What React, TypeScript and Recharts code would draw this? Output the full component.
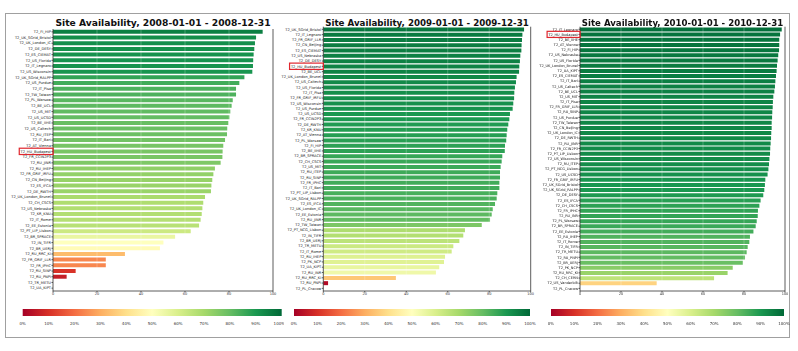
import { BarChart, Bar, Cell, XAxis, YAxis, ReferenceLine } from 'recharts'

const HIGHLIGHT = 'T2_HU_Budapest'

const sites2008 = [
  'T2_FI_HIP', 'T2_UK_SGrid_Bristol', 'T2_UK_London_IC', 'T2_DE_DESY', 'T2_ES_CIEMAT', 'T2_US_Florida',
  'T2_IT_Legnaro', 'T2_US_Wisconsin', 'T2_UK_SGrid_RALPP', 'T2_US_Purdue', 'T2_IT_Pisa', 'T2_TW_Taiwan',
  'T2_PL_Warsaw', 'T2_BE_UCL', 'T2_US_MIT', 'T2_US_UCSD', 'T2_BE_IIHE', 'T2_US_Caltech', 'T2_RU_ITEP',
  'T2_IT_Bari', 'T2_AT_Vienna', 'T2_HU_Budapest', 'T2_FR_CCIN2P3', 'T2_RU_JINR', 'T2_RU_IHEP',
  'T2_FR_GRIF_IRFU', 'T2_CN_Beijing', 'T2_ES_IFCA', 'T2_DE_RWTH', 'T2_UK_London_Brunel', 'T2_CH_CSCS',
  'T2_US_Nebraska', 'T2_KR_KNU', 'T2_IT_Rome', 'T2_EE_Estonia', 'T2_PT_LIP_Lisbon', 'T2_BR_SPRACE',
  'T2_IN_TIFR', 'T2_BR_UERJ', 'T2_RU_RRC_KI', 'T2_FR_GRIF_LLR', 'T2_FR_IPHC', 'T2_RU_SINP', 'T2_RU_PNPI',
  'T2_TR_METU', 'T2_UA_KIPT',
]
const avail2008 = [
  95.3, 92.3, 91.8, 91.5, 91.2, 91.0, 90.9, 90.6, 87.0, 84.7, 83.2, 83.2, 81.7, 81.2, 80.6, 80.2, 79.7,
  79.2, 79.1, 78.2, 77.4, 77.1, 77.0, 76.2, 73.6, 72.9, 72.4, 72.0, 71.8, 69.1, 68.3, 67.9, 67.6, 67.1,
  66.4, 62.6, 55.5, 50.2, 48.6, 32.7, 24.0, 24.0, 10.3, 6.2, 0, 0,
]

const sites2009 = [
  'T2_UK_SGrid_Bristol', 'T2_IT_Legnaro', 'T2_FR_GRIF_LLR', 'T2_CN_Beijing', 'T2_ES_CIEMAT', 'T2_US_Nebraska',
  'T2_DE_DESY', 'T2_HU_Budapest', 'T2_BE_UCL', 'T2_UK_London_Brunel', 'T2_US_Caltech', 'T2_US_Florida',
  'T2_IT_Pisa', 'T2_FR_GRIF_IRFU', 'T2_US_Wisconsin', 'T2_US_Purdue', 'T2_US_UCSD', 'T2_FR_CCIN2P3',
  'T2_DE_RWTH', 'T2_KR_KNU', 'T2_AT_Vienna', 'T2_PL_Warsaw', 'T2_FI_HIP', 'T2_BE_IIHE', 'T2_BR_SPRACE',
  'T2_CH_CSCS', 'T2_US_MIT', 'T2_RU_ITEP', 'T2_RU_SINP', 'T2_FR_IPHC', 'T2_IT_Bari', 'T2_PT_LIP_Lisbon',
  'T2_UK_SGrid_RALPP', 'T2_ES_IFCA', 'T2_UK_London_IC', 'T2_EE_Estonia', 'T2_RU_JINR', 'T2_TW_Taiwan',
  'T2_PT_NCG_Lisbon', 'T2_IN_TIFR', 'T2_BR_UERJ', 'T2_TR_METU', 'T2_IT_Rome', 'T2_RU_IHEP', 'T2_PK_NCP',
  'T2_UA_KIPT', 'T2_RU_INR', 'T2_RU_RRC_KI', 'T2_RU_PNPI', 'T2_PL_Cracow',
]
const avail2009 = [
  96.8, 96.0, 95.8, 95.6, 95.5, 95.0, 94.8, 94.5, 94.4, 93.2, 92.9, 92.4, 92.1, 92.0, 91.6, 91.3, 90.0,
  89.7, 89.2, 88.7, 88.4, 88.2, 87.6, 87.5, 86.3, 86.0, 85.5, 85.2, 85.2, 84.9, 84.9, 83.9, 83.6, 82.8,
  81.7, 81.2, 80.4, 76.4, 68.3, 67.5, 65.6, 62.7, 61.9, 58.7, 58.2, 55.9, 54.3, 35.0, 2.3, 0,
]

const sites2010 = [
  'T2_IT_Legnaro', 'T2_HU_Budapest', 'T2_BE_IIHE', 'T2_AT_Vienna', 'T2_FI_HIP', 'T2_US_Nebraska',
  'T2_US_Florida', 'T2_UK_London_Brunel', 'T2_UA_KIPT', 'T2_ES_CIEMAT', 'T2_IT_Bari', 'T2_US_Caltech',
  'T2_BE_UCL', 'T2_US_MIT', 'T2_IT_Pisa', 'T2_FR_GRIF_LLR', 'T2_RU_SINP', 'T2_US_Purdue', 'T2_TW_Taiwan',
  'T2_CN_Beijing', 'T2_UK_London_IC', 'T2_DE_RWTH', 'T2_RU_JINR', 'T2_FR_CCIN2P3', 'T2_PT_LIP_Lisbon',
  'T2_US_Wisconsin', 'T2_RU_ITEP', 'T2_PT_NCG_Lisbon', 'T2_US_UCSD', 'T2_FR_GRIF_IRFU', 'T2_UK_SGrid_Bristol',
  'T2_UK_SGrid_RALPP', 'T2_DE_DESY', 'T2_ES_IFCA', 'T2_CH_CSCS', 'T2_FR_IPHC', 'T2_RU_INR', 'T2_PL_Warsaw',
  'T2_BR_SPRACE', 'T2_EE_Estonia', 'T2_RU_IHEP', 'T2_IT_Rome', 'T2_IN_TIFR', 'T2_TR_METU', 'T2_RU_PNPI',
  'T2_BR_UERJ', 'T2_PK_NCP', 'T2_RU_RRC_KI', 'T2_CH_CERN', 'T2_US_Vanderbilt', 'T2_PL_Cracow',
]
const avail2010 = [
  98.4, 97.6, 97.2, 97.2, 97.1, 96.7, 96.4, 96.1, 95.9, 95.6, 95.3, 95.1, 94.8, 94.3, 94.1, 94.0, 93.8,
  93.7, 93.5, 93.5, 93.3, 93.2, 93.0, 92.8, 92.7, 92.4, 92.2, 91.9, 91.5, 90.4, 90.2, 89.9, 89.4, 88.1,
  87.5, 86.8, 86.7, 86.2, 85.7, 84.6, 82.9, 82.6, 81.8, 81.3, 80.5, 79.4, 74.5, 72.0, 65.4, 37.4, 0,
]

const axisTicks = [0, 20, 40, 60, 80, 100]
const barTicks = [0, 10, 20, 30, 40, 50, 60, 70, 80, 90, 100]

// matplotlib RdYlGn stops
const RDYLGN = ['#a50026', '#d73027', '#f46d43', '#fdae61', '#fee08b', '#ffffbf', '#d9ef8b', '#a6d96a', '#66bd63', '#1a9850', '#006837']

function hex(c: string) {
  return [1, 3, 5].map((i) => parseInt(c.slice(i, i + 2), 16))
}

function cmap(v: number) {
  const t = Math.max(0, Math.min(10, v / 10))
  const i = Math.min(9, Math.floor(t))
  const f = t - i
  const a = hex(RDYLGN[i])
  const b = hex(RDYLGN[i + 1])
  const c = a.map((x, k) => Math.round(x + (b[k] - x) * f))
  return `rgb(${c[0]},${c[1]},${c[2]})`
}

function SiteTick(props: any) {
  const { x, y, payload, fs } = props
  const name = payload.value as string
  const w = name.length * fs * 0.6
  return (
    <g>
      {name === HIGHLIGHT && (
        <rect x={x - w - 1.5} y={y - fs * 0.9} width={w + 3.6} height={fs * 1.75} fill="none" stroke="#e0262d" strokeWidth={1.2} />
      )}
      <text x={x} y={y} dy="0.35em" textAnchor="end" fontSize={fs} fill="#222">{name}</text>
    </g>
  )
}

const panels = [
  { year: '2008', names: sites2008, values: avail2008 },
  { year: '2009', names: sites2009, values: avail2009 },
  { year: '2010', names: sites2010, values: avail2010 },
]

// layout per panel (pixels)
const layout = [
  { left: 0, width: 280, top: 29, right: 5, yw: 53, fs: 3.6, titleFs: 9.2, cbLeft: 10, cbWidth: 274, cbL: 12.7, cbR: 2.3 },
  { left: 280, width: 256, top: 26.7, right: 3.3, yw: 43.3, fs: 3.6, titleFs: 8.7, cbLeft: 284, cbWidth: 254, cbL: 10, cbR: 8 },
  { left: 537, width: 253, top: 26.7, right: 3, yw: 43, fs: 3.5, titleFs: 8.6, cbLeft: 541, cbWidth: 251, cbL: 10, cbR: 8 },
]

function Panel({ idx }: { idx: number }) {
  const p = panels[idx]
  const L = layout[idx]
  const data = p.names.map((name, i) => ({ name, value: p.values[i] }))
  const plotLeft = L.left + L.yw
  const plotWidth = L.width - L.yw - L.right - 2
  const gradId = `rdylgn${idx}`
  return (
    <>
      <div
        style={{
          position: 'absolute', left: plotLeft - 20, width: plotWidth + 40, top: 16.5, textAlign: 'center',
          fontSize: L.titleFs, lineHeight: '12px', fontWeight: 'bold', fontFamily: 'DejaVu Sans', color: '#111',
          whiteSpace: 'nowrap',
        }}
      >
        Site Availability, {p.year}-01-01 - {p.year}-12-31
      </div>
      <div style={{ position: 'absolute', left: L.left, top: 0 }}>
        <BarChart
          width={L.width}
          height={300}
          data={data}
          layout="vertical"
          margin={{ top: L.top, right: L.right, bottom: 0, left: 0 }}
          barCategoryGap="14%"
        >
          <XAxis xAxisId="b" type="number" domain={[0, 100]} ticks={axisTicks} height={9} tickSize={1.5} tickMargin={0.5}
            tick={{ fontSize: 3.5, fill: '#333' }} stroke="#333" strokeWidth={0.8} />
          <XAxis xAxisId="t" type="number" orientation="top" domain={[0, 100]} height={0} tick={false} tickLine={false}
            stroke="#333" strokeWidth={0.8} />
          <YAxis yAxisId="l" type="category" dataKey="name" width={L.yw} interval={0} tickSize={1.5} tickMargin={0.5}
            tick={<SiteTick fs={L.fs} />} stroke="#333" strokeWidth={0.8} />
          <YAxis yAxisId="r" type="category" dataKey="name" orientation="right" width={2} interval={0} tickSize={1.5}
            tick={false} stroke="#333" strokeWidth={0.8} />
          <Bar xAxisId="b" yAxisId="l" dataKey="value" isAnimationActive={false}>
            {data.map((d) => (
              <Cell key={d.name} fill={cmap(d.value)} />
            ))}
          </Bar>
          {[20, 40, 60, 80].map((v) => (
            <ReferenceLine key={v} xAxisId="b" yAxisId="l" x={v} stroke="#ffffff" strokeOpacity={0.3} strokeWidth={0.8} />
          ))}
        </BarChart>
      </div>
      <div style={{ position: 'absolute', left: L.cbLeft, top: 305 }}>
        <BarChart
          width={L.cbWidth}
          height={30}
          data={[{ name: 'cb', value: 100 }]}
          layout="vertical"
          margin={{ top: 4, right: L.cbR, bottom: 12, left: L.cbL }}
          barCategoryGap={0}
        >
          <defs>
            <linearGradient id={gradId} x1="0" y1="0" x2="1" y2="0">
              {RDYLGN.map((c, i) => (
                <stop key={i} offset={`${i * 10}%`} stopColor={c} />
              ))}
            </linearGradient>
          </defs>
          <XAxis type="number" domain={[0, 100]} ticks={barTicks} height={7} axisLine={false} tickLine={false}
            tickMargin={0.5} tickFormatter={(v) => `${v}%`} tick={{ fontSize: 4, fill: '#333' }} />
          <YAxis type="category" dataKey="name" hide />
          <Bar dataKey="value" fill={`url(#${gradId})`} isAnimationActive={false} />
        </BarChart>
      </div>
    </>
  )
}

export default function App() {
  return (
    <div style={{ position: 'fixed', left: 0, top: 0, width: 798, height: 351, background: '#fff', fontFamily: 'DejaVu Sans' }}>
      <div style={{ position: 'absolute', left: 5, top: 13, width: 785, height: 325, border: '1px solid #a0a0a0', boxSizing: 'border-box' }} />
      <Panel idx={0} />
      <Panel idx={1} />
      <Panel idx={2} />
    </div>
  )
}
